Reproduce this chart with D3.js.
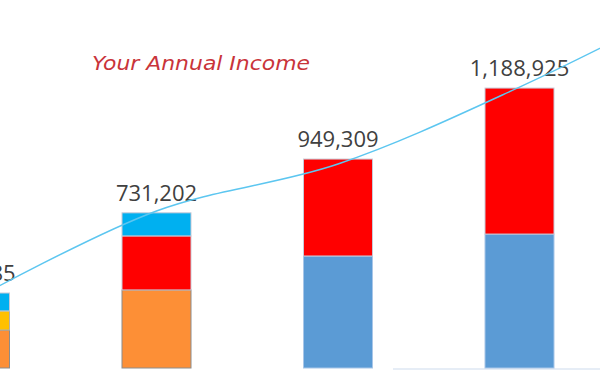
<!DOCTYPE html>
<html>
<head>
<meta charset="utf-8">
<script src="https://cdn.jsdelivr.net/npm/d3@7"></script>
<style>
  body { margin: 0; background: #fff; }
  svg { display: block; }
</style>
</head>
<body>
<svg id="incomeChart" width="600" height="381"></svg>
<script>
// categories (5th only carries the trend line, it sits off to the right)
const periods = ['P1', 'P2', 'P3', 'P4', 'P5'];
const barPeriods = ['P1', 'P2', 'P3', 'P4'];

// stacked parts, bottom to top
const blueVals   = [0, 0, 475000, 568000];
const orangeVals = [161000, 331000, 0, 0];
const yellowVals = [81000, 0, 0, 0];
const redVals    = [0, 229000, 411000, 619000];
const cyanVals   = [76000, 98000, 0, 0];

const totalLabels = ['412,385', '731,202', '949,309', '1,188,925'];

// trend line through the bar tops
const trendVals = [293000, 666000, 865000, 1191000, 1573000];

const titleText = 'Your Annual Income';

document.addEventListener('DOMContentLoaded', function () {
    const svg = d3.select('#incomeChart');

    const xScale = d3.scalePoint()
        .domain(periods)
        .range([-25, 701]);
    const barW = 69;

    const yScale = d3.scaleLinear()
        .domain([0, 1200000])
        .range([368, 85]);

    const keys = ['blue', 'orange', 'yellow', 'red', 'cyan'];
    const colors = { blue: '#5b9bd5', orange: '#fd8f36', yellow: '#ffc000', red: '#ff0000', cyan: '#00b0f0' };
    const strokes = { blue: '#a8c6e8', orange: '#8c8c8c', yellow: '#b0b0b0', red: '#c9c9d6', cyan: '#c9c9d6' };

    const rows = barPeriods.map((p, i) => ({
        period: p,
        blue: blueVals[i],
        orange: orangeVals[i],
        yellow: yellowVals[i],
        red: redVals[i],
        cyan: cyanVals[i]
    }));

    const stacked = d3.stack().keys(keys)(rows);

    // faint base line on the right
    svg.append('line')
        .attr('x1', xScale('P3') + 55)
        .attr('x2', 600)
        .attr('y1', yScale(0) + 1)
        .attr('y2', yScale(0) + 1)
        .attr('stroke', '#e6edf6')
        .attr('stroke-width', 2);

    svg.append('g')
        .selectAll('g')
        .data(stacked)
        .join('g')
        .attr('fill', d => colors[d.key])
        .attr('stroke', d => strokes[d.key])
        .selectAll('rect')
        .data(d => d.filter(s => s[1] - s[0] > 0))
        .join('rect')
        .attr('x', d => xScale(d.data.period) - barW / 2)
        .attr('width', barW)
        .attr('y', d => yScale(d[1]))
        .attr('height', d => yScale(d[0]) - yScale(d[1]))
        .attr('stroke-width', 1);

    // totals above each bar
    const tops = rows.map(r => keys.reduce((a, k) => a + r[k], 0));
    svg.append('g')
        .selectAll('text')
        .data(barPeriods)
        .join('text')
        .attr('x', d => xScale(d))
        .attr('y', (d, i) => yScale(tops[i]) - 12)
        .attr('text-anchor', 'middle')
        .attr('font-family', 'Open Sans, sans-serif')
        .attr('font-size', 22)
        .attr('fill', '#404040')
        .text((d, i) => totalLabels[i]);

    // trend line
    const line = d3.line()
        .x((d, i) => xScale(periods[i]))
        .y(d => yScale(d))
        .curve(d3.curveCatmullRom);

    svg.append('path')
        .datum(trendVals)
        .attr('d', line)
        .attr('fill', 'none')
        .attr('stroke', '#5cc6f0')
        .attr('stroke-width', 1.5);

    svg.append('text')
        .attr('x', 92)
        .attr('y', 70)
        .attr('font-family', 'DejaVu Sans, sans-serif')
        .attr('font-style', 'italic')
        .attr('font-weight', 300)
        .attr('font-size', 19)
        .attr('fill', '#c9343a')
        .attr('textLength', 218)
        .attr('lengthAdjust', 'spacingAndGlyphs')
        .text(titleText);
});
</script>
</body>
</html>
